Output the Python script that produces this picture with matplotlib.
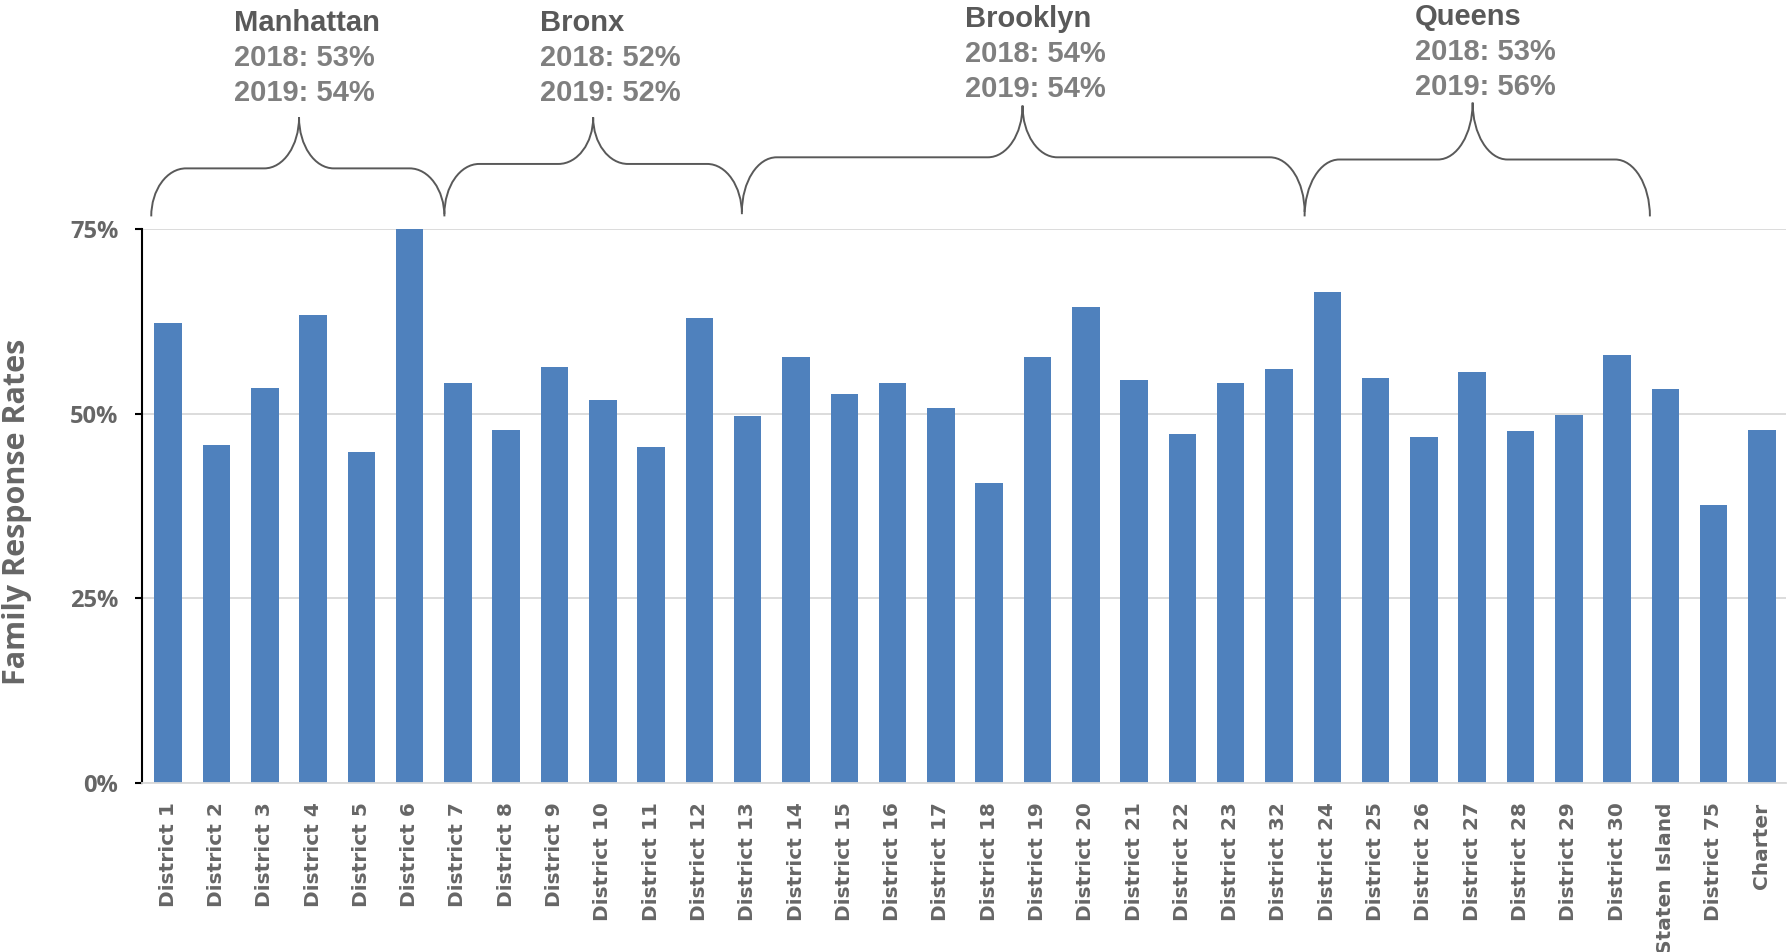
import numpy as np
import matplotlib
matplotlib.use("Agg")
import matplotlib.pyplot as plt
from matplotlib.path import Path
from matplotlib.patches import PathPatch

districts = ["District 1", "District 2", "District 3", "District 4", "District 5",
             "District 6", "District 7", "District 8", "District 9", "District 10",
             "District 11", "District 12", "District 13", "District 14", "District 15",
             "District 16", "District 17", "District 18", "District 19", "District 20",
             "District 21", "District 22", "District 23", "District 32", "District 24",
             "District 25", "District 26", "District 27", "District 28", "District 29",
             "District 30", "Staten Island", "District 75", "Charter"]
rates = [62.3, 45.8, 53.5, 63.4, 44.8, 75.0, 54.2, 47.8, 56.3, 51.9,
         45.5, 63.0, 49.7, 57.6, 52.6, 54.2, 50.8, 40.6, 57.7, 64.4,
         54.5, 47.2, 54.2, 56.0, 66.5, 54.8, 46.8, 55.7, 47.7, 49.8,
         57.9, 53.4, 37.7, 47.8]

boroughs = ["Manhattan", "Bronx", "Brooklyn", "Queens"]
rate_2018 = [53, 52, 54, 53]
rate_2019 = [54, 52, 54, 56]

# brace layout (data x, percent y)
brace_x0 = [-0.35, 5.72, 11.88, 23.53]
brace_x1 = [5.72, 11.88, 23.53, 30.68]
brace_tip = [2.71, 8.8, 17.69, 27.01]
brace_ytip = [90.1, 90.1, 91.7, 92.1]
brace_yflat = [83.2, 83.8, 84.7, 84.4]
brace_yend = [76.7, 77.0, 77.3, 76.7]
text_x = [1.36, 7.69, 16.49, 25.81]
text_y = [102.9, 102.9, 103.4, 103.7]

fig = plt.figure(figsize=(17.87, 9.52), dpi=100)
ax = fig.add_axes([0.0795, 0.1775, 0.92, 0.582])

x = np.arange(len(districts))
ax.bar(x, rates, width=0.57, color="#4f81bd", zorder=2)

ax.set_xlim(-0.54, len(districts) - 0.5)
ax.set_ylim(0, 75)
ax.set_yticks([0, 25, 50, 75])
ax.set_yticklabels(["0%", "25%", "50%", "75%"], fontsize=17, fontweight="bold",
                   color="#666666", family="Open Sans")
ax.set_xticks(x)
ax.set_xticklabels(districts, rotation=90, fontsize=14.5, fontweight="bold",
                   color="#666666")
ax.tick_params(axis="x", length=0, pad=14)
ax.tick_params(axis="y", length=5, width=1.5, color="black", direction="out", pad=12)
ax.grid(axis="y", color="#d9d9d9", linewidth=1.3, zorder=0)
for s in ["top", "right"]:
    ax.spines[s].set_visible(False)
ax.spines["left"].set_color("black")
ax.spines["left"].set_linewidth(1.5)
ax.spines["bottom"].set_color("#d9d9d9")
ax.spines["bottom"].set_linewidth(1.3)
ax.set_ylabel("Family Response Rates", fontsize=22, fontweight="bold",
              color="#666666", family="Open Sans", va="center")
ax.yaxis.set_label_coords(-0.076, 0.49)

r = 0.72
k = 0.552
for i in range(len(boroughs)):
    x0, x1, t = brace_x0[i], brace_x1[i], brace_tip[i]
    yt, yf, ye = brace_ytip[i], brace_yflat[i], brace_yend[i]
    dv = yf - ye
    dt = yt - yf
    verts = [(x0, ye), (x0, ye + k * dv), (x0 + (1 - k) * r, yf), (x0 + r, yf),
             (t - r, yf), (t - (1 - k) * r, yf), (t, yt - k * dt), (t, yt),
             (t, yt - k * dt), (t + (1 - k) * r, yf), (t + r, yf),
             (x1 - r, yf), (x1 - (1 - k) * r, yf), (x1, ye + k * dv), (x1, ye)]
    codes = [Path.MOVETO, Path.CURVE4, Path.CURVE4, Path.CURVE4,
             Path.LINETO, Path.CURVE4, Path.CURVE4, Path.CURVE4,
             Path.CURVE4, Path.CURVE4, Path.CURVE4,
             Path.LINETO, Path.CURVE4, Path.CURVE4, Path.CURVE4]
    ax.add_patch(PathPatch(Path(verts, codes), fill=False, edgecolor="#595959",
                           linewidth=1.4, clip_on=False))
    ax.text(text_x[i], text_y[i], boroughs[i], fontsize=21, fontweight="bold",
            color="#595959", family="Liberation Sans", va="center", ha="left",
            clip_on=False)
    ax.text(text_x[i], text_y[i] - 4.7, f"2018: {rate_2018[i]}%", fontsize=21,
            fontweight="bold", color="#7f7f7f", family="Liberation Sans",
            va="center", ha="left", clip_on=False)
    ax.text(text_x[i], text_y[i] - 9.5, f"2019: {rate_2019[i]}%", fontsize=21,
            fontweight="bold", color="#7f7f7f", family="Liberation Sans",
            va="center", ha="left", clip_on=False)

fig.savefig("out.png", dpi=100)
